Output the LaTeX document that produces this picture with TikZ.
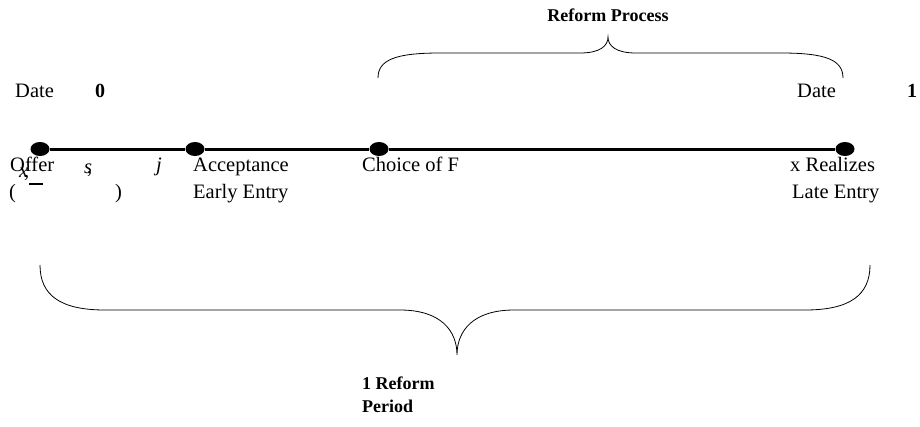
\documentclass[tikz,border=0pt]{standalone}
\usepackage{fontspec}
\setmainfont{Liberation Serif}
\usetikzlibrary{shapes.geometric}

\begin{document}
\begin{tikzpicture}[
  x=1pt, y=-1pt,
  dot/.style={ellipse, fill=black, minimum width=19pt, minimum height=14pt, inner sep=0pt},
  timeline/.style={line width=3pt},
  lbl/.style={anchor=base west, inner sep=0pt, font=\fontsize{20.5}{24}\selectfont},
  bold/.style={lbl, font=\fontsize{18}{23}\selectfont\bfseries},
  brace/.style={line width=0.8pt},
]
\useasboundingbox (0,0) rectangle (920,426);

% events on the time line
\node[dot] (offer) at (40,149) {};
\node[dot] (accept) at (195,149) {};
\node[dot] (choice) at (379,149) {};
\node[dot] (realize) at (845,149) {};
\draw[timeline] (offer) -- (accept) -- (choice) -- (realize);

% dates
\node[lbl] (date0) at (15,97) {Date};
\node[bold, font=\fontsize{20}{24}\selectfont\bfseries] (zero) at (95,97) {0};
\node[lbl] (date1) at (797,97) {Date};
\node[bold, font=\fontsize{20}{24}\selectfont\bfseries] (one) at (907,97) {1};

% first row
\node[lbl] (offertxt) at (10,171) {Offer};
\node[lbl] (xlow) at (19,177) {\textit{x}\kern-0.2em,};
\node[inner sep=0pt] (xbar) at (36,184) {\rule{14pt}{1.2pt}};
\node[lbl] (slow) at (84,173) {\textit{s}\kern-0.25em,};
\node[lbl] (jlow) at (156,171) {\textit{j}};
\node[lbl] (accepttxt) at (193,171) {Acceptance};
\node[lbl] (choicetxt) at (362,171) {Choice of F};
\node[lbl] (realizetxt) at (790,171) {x Realizes};

% second row
\node[lbl] (lpar) at (9,198) {(};
\node[lbl] (rpar) at (115,198) {)};
\node[lbl] (early) at (193,198) {Early Entry};
\node[lbl] (late) at (792,198) {Late Entry};

% reform process brace
\draw[brace] (378,78) .. controls (378,60) and (395,53) .. (440,53)
  -- (580,53) .. controls (600,53) and (608,46) .. (608,37)
  .. controls (608,46) and (616,53) .. (636,53) -- (781,53)
  .. controls (826,53) and (843,60) .. (843,78);
\node[bold, anchor=base] (process) at (608,21) {Reform Process};

% reform period brace
\draw[brace] (40,265) .. controls (40,295) and (60,310) .. (105,310)
  -- (400,310) .. controls (440,310) and (457,330) .. (457,355)
  .. controls (457,330) and (474,310) .. (514,310) -- (805,310)
  .. controls (850,310) and (870,295) .. (870,265);
\node[bold, align=left, anchor=north west] (period) at (362,377) {1 Reform\\Period};

\end{tikzpicture}
\end{document}
